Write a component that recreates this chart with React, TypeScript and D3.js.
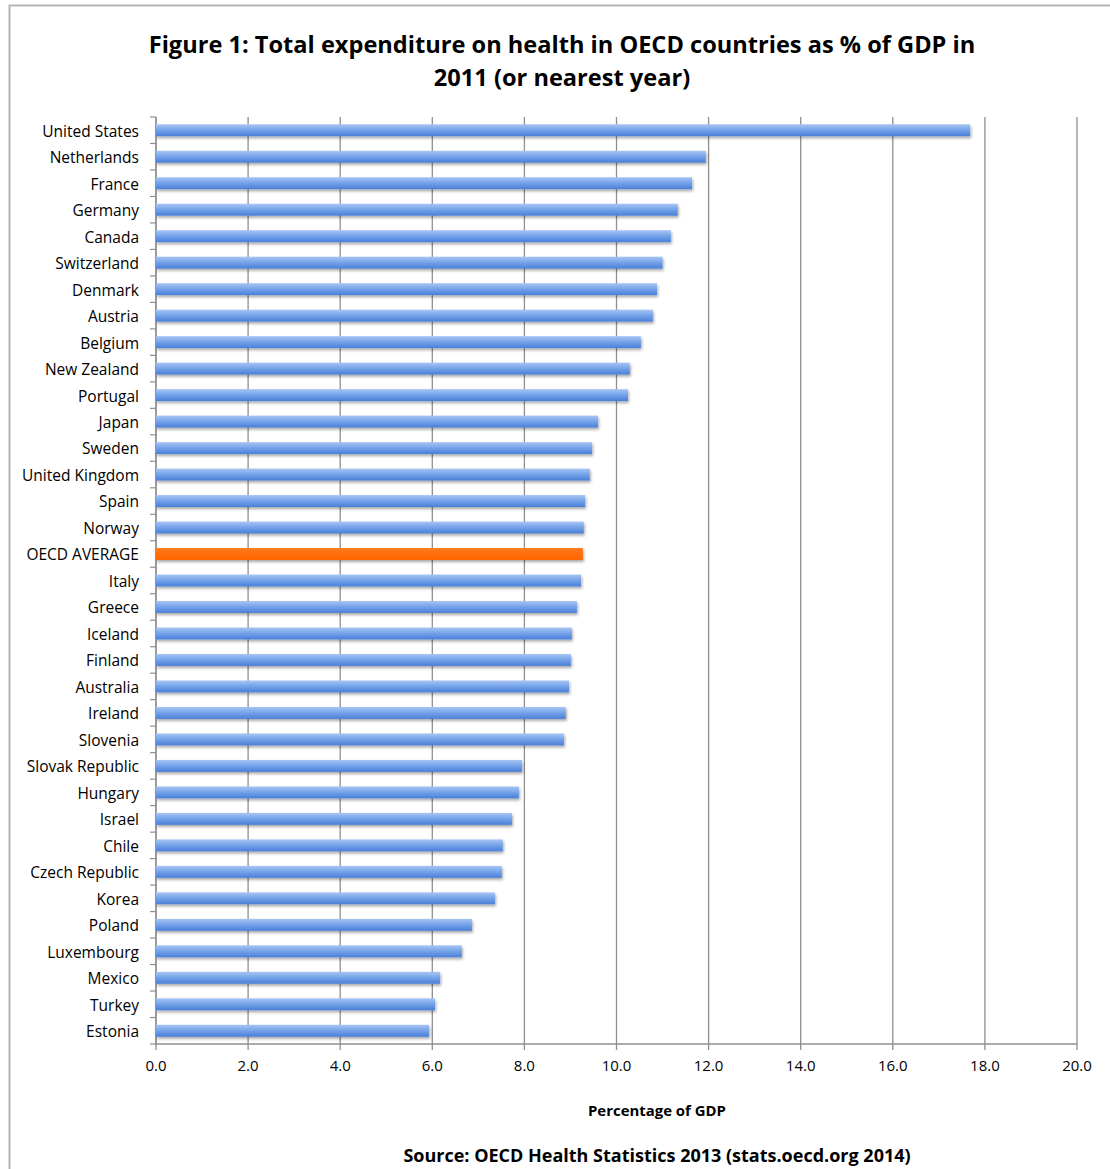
import React from "react";
import * as d3 from "d3";

const countries = [
  "United States", "Netherlands", "France", "Germany", "Canada", "Switzerland",
  "Denmark", "Austria", "Belgium", "New Zealand", "Portugal", "Japan", "Sweden",
  "United Kingdom", "Spain", "Norway", "OECD AVERAGE", "Italy", "Greece", "Iceland",
  "Finland", "Australia", "Ireland", "Slovenia", "Slovak Republic", "Hungary",
  "Israel", "Chile", "Czech Republic", "Korea", "Poland", "Luxembourg", "Mexico",
  "Turkey", "Estonia",
];
const values = [
  17.68, 11.94, 11.64, 11.33, 11.18, 11.0, 10.88, 10.79, 10.53, 10.29, 10.25,
  9.6, 9.47, 9.42, 9.32, 9.29, 9.27, 9.23, 9.14, 9.03, 9.01, 8.97, 8.9, 8.86,
  7.95, 7.88, 7.73, 7.53, 7.51, 7.36, 6.86, 6.64, 6.17, 6.06, 5.93,
];
const xTicks = [0, 2, 4, 6, 8, 10, 12, 14, 16, 18, 20];
const highlight = "OECD AVERAGE";

const titleLines = [
  "Figure 1: Total expenditure on health in OECD countries as % of GDP in",
  "2011 (or nearest year)",
];
const axisTitle = "Percentage of GDP";
const sourceText = "Source: OECD Health Statistics 2013 (stats.oecd.org 2014)";

const W = 1110;
const H = 1169;
const left = 156;
const right = 1077;
const top = 117;
const bottom = 1044;
const font = "'Open Sans', 'DejaVu Sans', sans-serif";

export default function App() {
  const data = countries.map((c, i) => ({ c, v: values[i] }));
  const x = d3.scaleLinear().domain([0, 20]).range([left, right]);
  const y = d3.scaleBand<string>().domain(countries).range([top, bottom]).paddingInner(0.55).paddingOuter(0.275);
  const yb = d3.scaleBand<string>().domain(countries).range([top, bottom]);
  const grid = "#8f8f8f";

  return (
    <div style={{ position: "absolute", left: 0, top: 0 }}>
      <svg width={W} height={H} style={{ display: "block", background: "#fff" }}>
        <defs>
          <linearGradient id="blueGrad" x1="0" y1="0" x2="0" y2="1">
            <stop offset="0%" stopColor="#a7c5f4" />
            <stop offset="45%" stopColor="#78a5ea" />
            <stop offset="100%" stopColor="#4a7fd8" />
          </linearGradient>
          <linearGradient id="orangeGrad" x1="0" y1="0" x2="0" y2="1">
            <stop offset="0%" stopColor="#ff7a1a" />
            <stop offset="100%" stopColor="#ff6400" />
          </linearGradient>
          <filter id="shadow" x="-5%" y="-50%" width="110%" height="250%">
            <feGaussianBlur in="SourceAlpha" stdDeviation="1.5" />
            <feOffset dx="1" dy="2" result="ob" />
            <feComponentTransfer>
              <feFuncA type="linear" slope="0.35" />
            </feComponentTransfer>
            <feMerge>
              <feMergeNode />
              <feMergeNode in="SourceGraphic" />
            </feMerge>
          </filter>
        </defs>

        {/* outer frame */}
        <path d={`M9.5,${H} V5.5 H${W}`} fill="none" stroke="#b5b5b5" strokeWidth={2} />

        {/* title */}
        {titleLines.map((t, i) => (
          <text key={i} x={562} y={53 + i * 33} textAnchor="middle" fontFamily={font} fontWeight="bold" fontSize={23.6} fill="#000">
            {t}
          </text>
        ))}

        {/* gridlines */}
        {xTicks.map((t) => (
          <line key={t} x1={x(t)} x2={x(t)} y1={top} y2={bottom + 6} stroke={grid} strokeWidth={1.3} />
        ))}

        {/* y axis */}
        <line x1={left} x2={left} y1={top} y2={bottom} stroke={grid} strokeWidth={1.3} />
        {countries.map((c) => (
          <line key={c} x1={left - 6} x2={left} y1={yb(c)!} y2={yb(c)!} stroke={grid} strokeWidth={1.2} />
        ))}
        <line x1={left - 6} x2={left} y1={bottom} y2={bottom} stroke={grid} strokeWidth={1.2} />
        {/* x axis */}
        <line x1={left} x2={right} y1={bottom} y2={bottom} stroke={grid} strokeWidth={1.3} />

        {/* bars */}
        {data.map((d) => (
          <rect
            key={d.c}
            x={x(0)}
            y={y(d.c)!}
            width={x(d.v) - x(0)}
            height={y.bandwidth()}
            fill={d.c === highlight ? "url(#orangeGrad)" : "url(#blueGrad)"}
            filter="url(#shadow)"
          />
        ))}

        {/* category labels */}
        {countries.map((c) => (
          <text key={c} x={139} y={yb(c)! + yb.bandwidth() / 2 + 1} dy="0.35em" textAnchor="end" fontFamily={font} fontSize={15.5} fill="#000">
            {c}
          </text>
        ))}

        {/* x tick labels */}
        {xTicks.map((t) => (
          <text key={t} x={x(t)} y={1071} textAnchor="middle" fontFamily={font} fontSize={15} fill="#000">
            {t.toFixed(1)}
          </text>
        ))}

        <text x={657} y={1116} textAnchor="middle" fontFamily={font} fontWeight="bold" fontSize={14.5} textLength={138} lengthAdjust="spacingAndGlyphs" fill="#000">
          {axisTitle}
        </text>
        <text x={657} y={1162} textAnchor="middle" fontFamily={font} fontWeight="bold" fontSize={18} fill="#000">
          {sourceText}
        </text>
      </svg>
    </div>
  );
}
